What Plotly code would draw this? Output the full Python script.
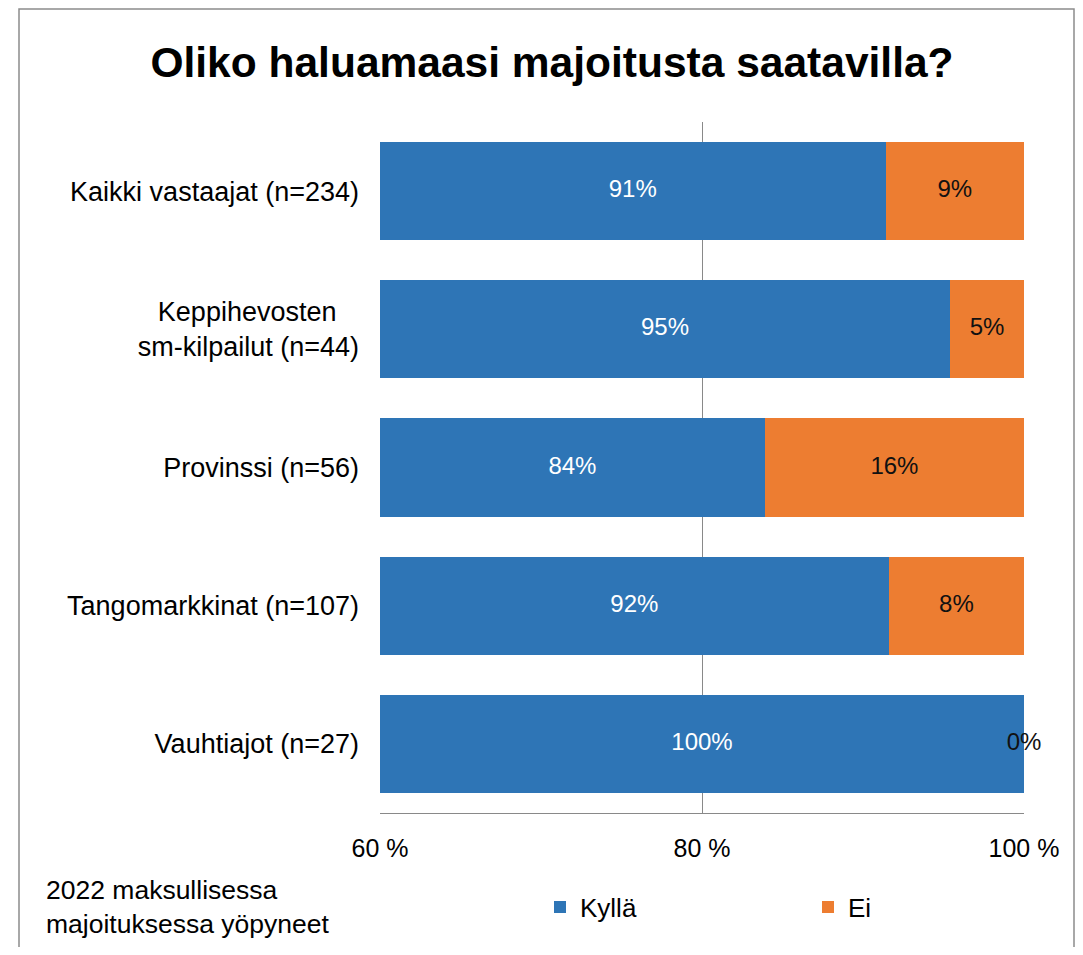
import plotly.graph_objects as go

categories = [
    "Kaikki vastaajat (n=234)",
    "Keppihevosten&nbsp;&nbsp;&nbsp;<br>sm-kilpailut (n=44)",
    "Provinssi (n=56)",
    "Tangomarkkinat (n=107)",
    "Vauhtiajot (n=27)",
]
kylla = [91.4, 95.4, 83.9, 91.6, 100.0]
ei = [8.6, 4.6, 16.1, 8.4, 0.0]
tick_vals = [60, 80, 100]
tick_text = ["60 %", "80 %", "100 %"]

X_MIN, X_MAX = 60, 100
BLUE = "#2E75B6"
ORANGE = "#ED7D31"
GRID = "#898989"
FONT = "Liberation Sans, Arial, sans-serif"

fig = go.Figure()
fig.add_trace(go.Bar(y=categories, x=kylla, name="Kyllä", orientation="h",
                     marker=dict(color=BLUE, line=dict(width=0)),
                     legend="legend", hoverinfo="skip"))
fig.add_trace(go.Bar(y=categories, x=ei, name="Ei", orientation="h",
                     marker=dict(color=ORANGE, line=dict(width=0)),
                     legend="legend2", hoverinfo="skip"))

# data labels
k_mid = [(max(X_MIN, 0) + v) / 2 for v in kylla]
e_mid = [k + e / 2 for k, e in zip(kylla, ei)]
fig.add_trace(go.Scatter(y=categories, x=k_mid, mode="text",
                         text=[f"{round(v)}%" for v in kylla],
                         textfont=dict(family=FONT, size=24, color="white"),
                         showlegend=False, hoverinfo="skip", cliponaxis=False))
fig.add_trace(go.Scatter(y=categories, x=e_mid, mode="text",
                         text=[f"{round(v)}%" for v in ei],
                         textfont=dict(family=FONT, size=24, color="#111111"),
                         showlegend=False, hoverinfo="skip", cliponaxis=False))

OFF = 8  # page body margin
W, H = 1083 - 2 * OFF, 955 - 2 * OFF
# target window pixel positions of the plot area
PL, PR, PT, PB = 380, 1024, 122, 813
L, T = PL - OFF, PT - OFF
R = W - (PR - OFF)
B = H - (PB - OFF)
pw, ph = W - L - R, H - T - B

def px_x(x):
    return (x - OFF - L) / pw

def px_y(y):
    return (H - B - (y - OFF)) / ph

fig.update_layout(
    width=W, height=H,
    margin=dict(l=L, r=R, t=T, b=B),
    barmode="stack", bargap=0.29,
    plot_bgcolor="white", paper_bgcolor="white",
    font=dict(family=FONT, size=24, color="#000000"),
    title=dict(text="<b>Oliko haluamaasi majoitusta saatavilla?</b>",
               x=(552 - OFF) / W, xanchor="center", y=1 - (62 - OFF) / H, yanchor="middle",
               font=dict(family=FONT, size=42.5, color="#000000")),
    xaxis=dict(range=[X_MIN, X_MAX], tickvals=tick_vals, ticktext=tick_text,
               showgrid=True, gridcolor=GRID, gridwidth=1,
               showline=True, linecolor=GRID, linewidth=1,
               zeroline=False, ticks="", ticklabelstandoff=13,
               tickfont=dict(family=FONT, size=25, color="#000000"),
               fixedrange=True),
    yaxis=dict(autorange="reversed", showgrid=False, showline=False,
               ticks="", ticklabelstandoff=20,
               tickfont=dict(family=FONT, size=27, color="#000000"),
               fixedrange=True),
    legend=dict(orientation="h", x=px_x(540), xanchor="left",
                y=px_y(907), yanchor="middle",
                font=dict(family=FONT, size=26, color="#000000"),
                bgcolor="rgba(0,0,0,0)"),
    legend2=dict(orientation="h", x=px_x(808), xanchor="left",
                 y=px_y(907), yanchor="middle",
                 font=dict(family=FONT, size=26, color="#000000"),
                 bgcolor="rgba(0,0,0,0)"),
    showlegend=True,
    annotations=[dict(text="2022 maksullisessa<br>majoituksessa yöpyneet",
                      xref="paper", yref="paper",
                      x=px_x(44), y=px_y(873), xanchor="left", yanchor="top",
                      align="left", showarrow=False,
                      font=dict(family=FONT, size=26.5, color="#000000"))],
    shapes=[dict(type="rect", xref="paper", yref="paper",
                 x0=px_x(19), x1=px_x(1074), y0=px_y(1000), y1=px_y(9),
                 line=dict(color="#8c8c8c", width=1.5),
                 fillcolor="rgba(0,0,0,0)", layer="below")],
)

fig.write_html("out.html")
